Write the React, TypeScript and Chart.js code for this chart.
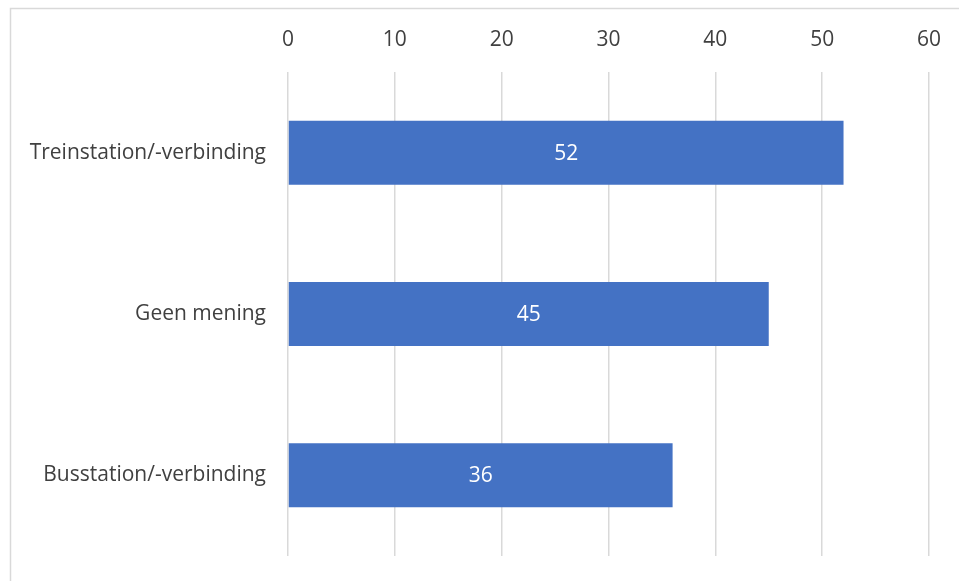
import React, { useEffect, useRef } from "react";
import { Chart, registerables } from "chart.js";

Chart.register(...registerables);

const categories = ["Treinstation/-verbinding", "Geen mening", "Busstation/-verbinding"];
const values = [52, 45, 36];
const xMin = 0;
const xMax = 60;
const xStep = 10;

const FONT = "'Open Sans', sans-serif";
const FONT_SIZE = 21;

const borderPlugin = {
  id: "outerBorder",
  beforeDraw(chart: any) {
    const ctx = chart.ctx;
    ctx.save();
    ctx.strokeStyle = "#d9d9d9";
    ctx.lineWidth = 1.5;
    ctx.beginPath();
    ctx.moveTo(10.5, chart.height + 5);
    ctx.lineTo(10.5, 8.5);
    ctx.lineTo(chart.width + 5, 8.5);
    ctx.stroke();
    ctx.restore();
  },
};

const labelPlugin = {
  id: "barLabels",
  afterDatasetsDraw(chart: any) {
    const ctx = chart.ctx;
    const meta = chart.getDatasetMeta(0);
    ctx.save();
    ctx.fillStyle = "#ffffff";
    ctx.font = `${FONT_SIZE}px ${FONT}`;
    ctx.textAlign = "center";
    ctx.textBaseline = "middle";
    meta.data.forEach((bar: any, i: number) => {
      const cx = (bar.x + bar.base) / 2;
      ctx.fillText(String(values[i]), cx, bar.y + 1);
    });
    ctx.restore();
  },
};

export default function App() {
  const ref = useRef<HTMLCanvasElement>(null);
  useEffect(() => {
    if (!ref.current) return;
    const chart = new Chart(ref.current, {
      type: "bar",
      data: {
        labels: categories,
        datasets: [
          {
            data: values,
            backgroundColor: "#4472C4",
            borderWidth: 0,
            categoryPercentage: 1,
            barPercentage: 0.397,
          },
        ],
      },
      options: {
        indexAxis: "y",
        responsive: false,
        animation: false,
        events: [],
        layout: { padding: { left: 0, right: 30, top: 0, bottom: 25 } },
        plugins: { legend: { display: false }, tooltip: { enabled: false } },
        scales: {
          x: {
            position: "top",
            min: xMin,
            max: xMax,
            ticks: { stepSize: xStep, color: "#404040", font: { family: FONT, size: FONT_SIZE }, padding: 19 },
            grid: { color: "#d9d9d9", lineWidth: 1.5, drawTicks: false },
            border: { display: false },
            afterFit(scale: any) {
              scale.height = 72;
              scale.paddingLeft = 0;
              scale.paddingRight = 0;
            },
          },
          y: {
            ticks: { color: "#404040", font: { family: FONT, size: FONT_SIZE }, padding: 22 },
            grid: { display: false, drawTicks: false },
            border: { display: false },
            afterFit(scale: any) {
              scale.width = 288;
              scale.paddingTop = 0;
              scale.paddingBottom = 0;
            },
          },
        },
      },
      plugins: [borderPlugin, labelPlugin],
    });
    return () => chart.destroy();
  }, []);
  return (
    <div style={{ position: "fixed", left: 0, top: 0, width: 959, height: 581, background: "#fff" }}>
      <canvas ref={ref} width={959} height={581} style={{ display: "block" }} />
    </div>
  );
}
